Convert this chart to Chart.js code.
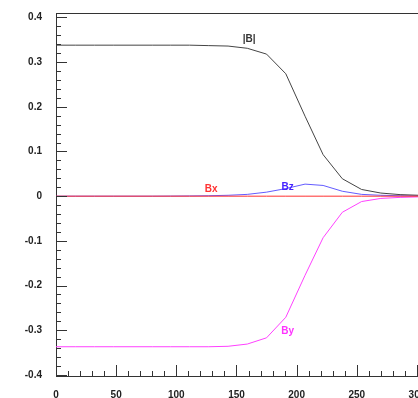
<!DOCTYPE html>
<html>
<head>
<meta charset="utf-8">
<script src="https://cdn.jsdelivr.net/npm/chart.js@4.4.0/dist/chart.umd.min.js"></script>
<style>
    html, body { margin: 0; padding: 0; background: #fff; overflow: hidden; }
    #wrap { width: 418px; height: 398px; overflow: hidden; }
</style>
</head>
<body>
<div id="wrap"><canvas id="doThiB" width="460" height="398"></canvas></div>
<script>
// du lieu doc tu hinh
var _xs = [0, 16, 32, 48, 64, 80, 95, 111, 127, 143, 159, 175, 191, 207, 222, 238, 254, 270, 286, 302, 318];
var _valuesB = [0.338, 0.338, 0.338, 0.338, 0.338, 0.338, 0.338, 0.338, 0.337, 0.336, 0.331, 0.318, 0.274, 0.179, 0.093, 0.039, 0.015, 0.007, 0.0035, 0.002, 0.001];
var _valuesBx = [0, 0, 0, 0, 0, 0, 0, 0, 0, 0, 0, 0, 0, 0, 0, 0, 0, 0, 0, 0, 0];
var _valuesBy = [-0.337, -0.337, -0.337, -0.337, -0.337, -0.337, -0.337, -0.337, -0.337, -0.336, -0.331, -0.317, -0.271, -0.177, -0.093, -0.036, -0.012, -0.005, -0.0027, -0.0015, -0.001];
var _valuesBz = [0, 0, 0, 0, 0, 0, 0.0002, 0.0005, 0.001, 0.002, 0.004, 0.009, 0.017, 0.027, 0.024, 0.011, 0.004, 0.002, 0.001, 0.0005, 0.0003];
var _xTicks = [0, 50, 100, 150, 200, 250, 300];
var _yTicks = [-0.4, -0.3, -0.2, -0.1, 0, 0.1, 0.2, 0.3, 0.4];
var _names = ['|B|', 'Bx', 'By', 'Bz'];
var _colors = ['#444444', '#ff3030', '#ff40ff', 'rgba(60,50,255,0.8)'];
var _labelColors = ['#333333', '#ff3333', '#ff33ff', '#4422ff'];
var _labelAt = [[160.5, 0.351], [129, 0.0146], [192.5, -0.302], [192.5, 0.021]];

function toPoints(xs, ys) {
    var pts = [];
    xs.forEach(function (x, i) {
        pts.push({ x: x, y: ys[i] });
    });
    return pts;
}

// ve vach chia huong vao trong + khung tren + nhan cac duong
var veVach = {
    id: 'veVach',
    afterDraw: function (chart) {
        var ctx = chart.ctx;
        var a = chart.chartArea;
        var sx = chart.scales.x;
        var sy = chart.scales.y;
        ctx.save();
        ctx.strokeStyle = '#333';
        ctx.lineWidth = 1;
        ctx.beginPath();
        for (var v = 0; v <= 320; v += 10) {
            var px = Math.round(sx.getPixelForValue(v)) + 0.5;
            var len = (v % 50 === 0) ? 11 : 5;
            ctx.moveTo(px, a.bottom);
            ctx.lineTo(px, a.bottom - len);
        }
        for (var k = -20; k <= 20; k++) {
            var py = Math.round(sy.getPixelForValue(k * 0.02)) + 0.5;
            var len2 = (k % 5 === 0) ? 11 : 5;
            ctx.moveTo(a.left, py);
            ctx.lineTo(a.left + len2, py);
        }
        // khung tren
        ctx.moveTo(a.left, Math.round(a.top) + 0.5);
        ctx.lineTo(a.right, Math.round(a.top) + 0.5);
        ctx.stroke();

        ctx.font = 'bold 10px "Liberation Sans", Arial, sans-serif';
        ctx.textAlign = 'center';
        ctx.textBaseline = 'middle';
        _names.forEach(function (n, i) {
            ctx.fillStyle = _labelColors[i];
            ctx.fillText(n, sx.getPixelForValue(_labelAt[i][0]), sy.getPixelForValue(_labelAt[i][1]));
        });
        ctx.restore();
    }
};

function renderDoThi() {
    var ctx = document.getElementById('doThiB').getContext('2d');
    var order = [1, 0, 2, 3];
    var allValues = [_valuesB, _valuesBx, _valuesBy, _valuesBz];
    var datasets = [];
    order.forEach(function (i) {
        datasets.push({
            label: _names[i],
            data: toPoints(_xs, allValues[i]),
            borderColor: _colors[i],
            borderWidth: 1,
            pointRadius: 0,
            showLine: true,
            fill: false,
            tension: 0
        });
    });

    new Chart(ctx, {
        type: 'scatter',
        data: { datasets: datasets },
        options: {
            responsive: false,
            animation: false,
            layout: { padding: { top: 13, right: 19, left: 0, bottom: 0 } },
            plugins: { legend: { display: false }, tooltip: { enabled: false } },
            scales: {
                x: {
                    type: 'linear',
                    min: 0,
                    max: 320,
                    afterFit: function (s) { s.height = 22; s.paddingLeft = 0; s.paddingRight = 0; },
                    afterBuildTicks: function (s) {
                        s.ticks = _xTicks.map(function (v) { return { value: v }; });
                    },
                    grid: { display: true, drawOnChartArea: false, drawTicks: false },
                    border: { display: true, color: '#333', width: 1 },
                    ticks: {
                        padding: 13,
                        color: '#222',
                        maxRotation: 0,
                        font: { family: '"Liberation Sans", Arial, sans-serif', size: 10, weight: 'bold' },
                        callback: function (value) { return String(value); }
                    }
                },
                y: {
                    type: 'linear',
                    min: -0.4025,
                    max: 0.41,
                    afterFit: function (s) { s.width = 56; s.paddingTop = 0; s.paddingBottom = 0; },
                    afterBuildTicks: function (s) {
                        s.ticks = _yTicks.map(function (v) { return { value: v }; });
                    },
                    grid: { display: true, drawOnChartArea: false, drawTicks: false },
                    border: { display: true, color: '#333', width: 1 },
                    ticks: {
                        padding: 14,
                        color: '#222',
                        font: { family: '"Liberation Sans", Arial, sans-serif', size: 10, weight: 'bold' },
                        callback: function (value) {
                            return String(Math.round(value * 10) / 10);
                        }
                    }
                }
            }
        },
        plugins: [veVach]
    });
}

renderDoThi();
</script>
</body>
</html>
